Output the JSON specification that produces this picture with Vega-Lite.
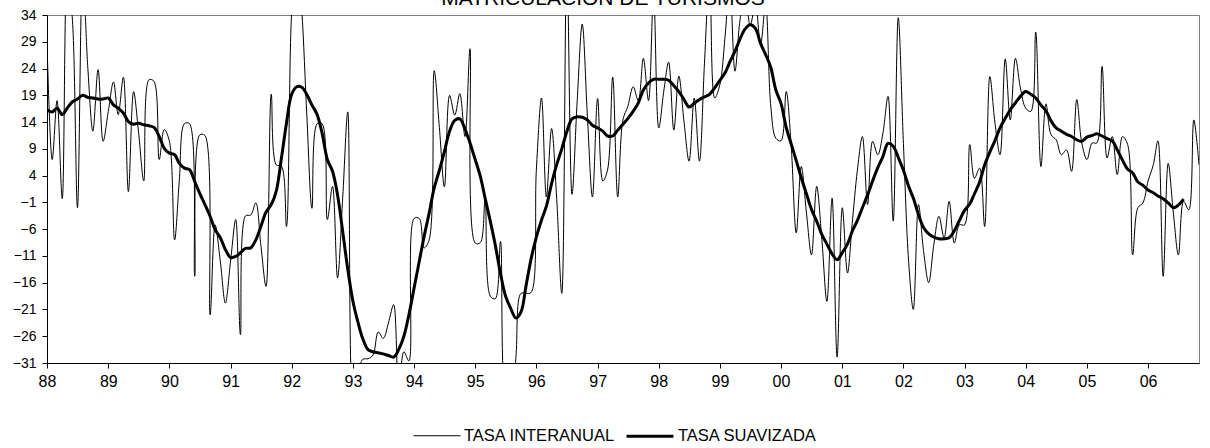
{
  "$schema": "https://vega.github.io/schema/vega-lite/v6.json",
  "width": 1152,
  "height": 348,
  "autosize": {"type": "none"},
  "padding": {"left": 47, "top": 15, "right": 11, "bottom": 85},
  "background": "white",
  "title": {
    "text": "MATRICULACIÓN DE TURISMOS",
    "font": "Liberation Sans",
    "fontSize": 21,
    "fontWeight": "normal",
    "color": "black",
    "anchor": "middle",
    "frame": "group",
    "baseline": "alphabetic",
    "offset": 0,
    "dy": 18,
    "dx": -20
  },
  "config": {
    "view": {"stroke": "#808080", "strokeWidth": 1},
    "font": "Liberation Sans",
    "axis": {"labelFont": "Liberation Sans", "labelColor": "black", "domainColor": "black", "tickColor": "black", "grid": false, "title": null, "labelOverlap": false},
    "axisY": {"labelOverlap": false, "labelFontSize": 14, "tickSize": 5, "labelPadding": 6, "labelFlush": false}
  },
  "data": {
    "values": [
      {"fecha": "1988-01", "interanual": 29, "suavizada": 16.3},
      {"fecha": "1988-02", "interanual": 7, "suavizada": 15.9},
      {"fecha": "1988-03", "interanual": 18, "suavizada": 16.6},
      {"fecha": "1988-04", "interanual": -0.3, "suavizada": 15.4},
      {"fecha": "1988-05", "interanual": 42, "suavizada": 16.6},
      {"fecha": "1988-06", "interanual": 33, "suavizada": 17.8},
      {"fecha": "1988-07", "interanual": -2, "suavizada": 18.3},
      {"fecha": "1988-08", "interanual": 42, "suavizada": 19},
      {"fecha": "1988-09", "interanual": 24, "suavizada": 18.6},
      {"fecha": "1988-10", "interanual": 12.3, "suavizada": 18.5},
      {"fecha": "1988-11", "interanual": 23.8, "suavizada": 18.3},
      {"fecha": "1988-12", "interanual": 10.4, "suavizada": 18.3},
      {"fecha": "1989-01", "interanual": 16, "suavizada": 18.5},
      {"fecha": "1989-02", "interanual": 21.5, "suavizada": 17.2},
      {"fecha": "1989-03", "interanual": 15.4, "suavizada": 16.6},
      {"fecha": "1989-04", "interanual": 22.4, "suavizada": 15.7},
      {"fecha": "1989-05", "interanual": 1, "suavizada": 14.1},
      {"fecha": "1989-06", "interanual": 19.7, "suavizada": 13.6},
      {"fecha": "1989-07", "interanual": 12, "suavizada": 13.8},
      {"fecha": "1989-08", "interanual": 3, "suavizada": 13.5},
      {"fecha": "1989-09", "interanual": 21.9, "suavizada": 13.3},
      {"fecha": "1989-10", "interanual": 21.6, "suavizada": 13},
      {"fecha": "1989-11", "interanual": 7, "suavizada": 11.3},
      {"fecha": "1989-12", "interanual": 12.6, "suavizada": 9.1},
      {"fecha": "1990-01", "interanual": 10.4, "suavizada": 8.2},
      {"fecha": "1990-02", "interanual": -8, "suavizada": 7.9},
      {"fecha": "1990-03", "interanual": 3, "suavizada": 6.3},
      {"fecha": "1990-04", "interanual": 13.7, "suavizada": 5.4},
      {"fecha": "1990-05", "interanual": 13.7, "suavizada": 5.1},
      {"fecha": "1990-06", "interanual": -14.8, "suavizada": 2.9},
      {"fecha": "1990-07", "interanual": 11.6, "suavizada": 0.7},
      {"fecha": "1990-08", "interanual": 11.5, "suavizada": -1.4},
      {"fecha": "1990-09", "interanual": -22, "suavizada": -3.6},
      {"fecha": "1990-10", "interanual": -5.2, "suavizada": -6.1},
      {"fecha": "1990-11", "interanual": -12, "suavizada": -7.6},
      {"fecha": "1990-12", "interanual": -19.8, "suavizada": -9.8},
      {"fecha": "1991-01", "interanual": -12, "suavizada": -11.3},
      {"fecha": "1991-02", "interanual": -4.2, "suavizada": -11.1},
      {"fecha": "1991-03", "interanual": -25.7, "suavizada": -10.4},
      {"fecha": "1991-04", "interanual": -3.5, "suavizada": -9.6},
      {"fecha": "1991-05", "interanual": -3.4, "suavizada": -9.5},
      {"fecha": "1991-06", "interanual": -1.1, "suavizada": -8},
      {"fecha": "1991-07", "interanual": -9, "suavizada": -5.5},
      {"fecha": "1991-08", "interanual": -16.7, "suavizada": -2.8},
      {"fecha": "1991-09", "interanual": 19.2, "suavizada": -1.4},
      {"fecha": "1991-10", "interanual": 6, "suavizada": 1.1},
      {"fecha": "1991-11", "interanual": 5.8, "suavizada": 7.3},
      {"fecha": "1991-12", "interanual": -5.5, "suavizada": 13.8},
      {"fecha": "1992-01", "interanual": 34.5, "suavizada": 19.2},
      {"fecha": "1992-02", "interanual": 45, "suavizada": 20.6},
      {"fecha": "1992-03", "interanual": 35, "suavizada": 20.5},
      {"fecha": "1992-04", "interanual": 15, "suavizada": 19.1},
      {"fecha": "1992-05", "interanual": -2.1, "suavizada": 17.2},
      {"fecha": "1992-06", "interanual": 13.7, "suavizada": 15.4},
      {"fecha": "1992-07", "interanual": 13.7, "suavizada": 11.9},
      {"fecha": "1992-08", "interanual": -4.2, "suavizada": 7},
      {"fecha": "1992-09", "interanual": 2, "suavizada": 4.8},
      {"fecha": "1992-10", "interanual": -15.1, "suavizada": 0.4},
      {"fecha": "1992-11", "interanual": 0, "suavizada": -6.5},
      {"fecha": "1992-12", "interanual": 15.9, "suavizada": -13.5},
      {"fecha": "1993-01", "interanual": -38, "suavizada": -19.5},
      {"fecha": "1993-02", "interanual": -33, "suavizada": -23.5},
      {"fecha": "1993-03", "interanual": -30.3, "suavizada": -26.5},
      {"fecha": "1993-04", "interanual": -30.2, "suavizada": -28.5},
      {"fecha": "1993-05", "interanual": -29.5, "suavizada": -28.9},
      {"fecha": "1993-06", "interanual": -25.2, "suavizada": -29.1},
      {"fecha": "1993-07", "interanual": -26.4, "suavizada": -29.3},
      {"fecha": "1993-08", "interanual": -23.5, "suavizada": -29.6},
      {"fecha": "1993-09", "interanual": -20.1, "suavizada": -29.9},
      {"fecha": "1993-10", "interanual": -36, "suavizada": -28.5},
      {"fecha": "1993-11", "interanual": -28.9, "suavizada": -26},
      {"fecha": "1993-12", "interanual": -30.6, "suavizada": -22},
      {"fecha": "1994-01", "interanual": -4, "suavizada": -17},
      {"fecha": "1994-02", "interanual": -4, "suavizada": -12},
      {"fecha": "1994-03", "interanual": -9.5, "suavizada": -7.5},
      {"fecha": "1994-04", "interanual": -8, "suavizada": -3},
      {"fecha": "1994-05", "interanual": 23.6, "suavizada": 1.7},
      {"fecha": "1994-06", "interanual": 13, "suavizada": 5},
      {"fecha": "1994-07", "interanual": 1.9, "suavizada": 8.5},
      {"fecha": "1994-08", "interanual": 19, "suavizada": 12.3},
      {"fecha": "1994-09", "interanual": 15.3, "suavizada": 14.3},
      {"fecha": "1994-10", "interanual": 19.3, "suavizada": 14.6},
      {"fecha": "1994-11", "interanual": 11.3, "suavizada": 12.7},
      {"fecha": "1994-12", "interanual": 27.7, "suavizada": 10.1},
      {"fecha": "1995-01", "interanual": -8.6, "suavizada": 7},
      {"fecha": "1995-02", "interanual": -8.5, "suavizada": 3.8},
      {"fecha": "1995-03", "interanual": -0.5, "suavizada": -0.2},
      {"fecha": "1995-04", "interanual": -18.5, "suavizada": -4.5},
      {"fecha": "1995-05", "interanual": -19, "suavizada": -9},
      {"fecha": "1995-06", "interanual": -8.3, "suavizada": -14.3},
      {"fecha": "1995-07", "interanual": -38, "suavizada": -18.5},
      {"fecha": "1995-08", "interanual": -40, "suavizada": -20.8},
      {"fecha": "1995-09", "interanual": -30, "suavizada": -22.6},
      {"fecha": "1995-10", "interanual": -18, "suavizada": -21.5},
      {"fecha": "1995-11", "interanual": -18, "suavizada": -16.5},
      {"fecha": "1995-12", "interanual": -17.8, "suavizada": -11.5},
      {"fecha": "1996-01", "interanual": 5, "suavizada": -7.5},
      {"fecha": "1996-02", "interanual": 18.5, "suavizada": -4.3},
      {"fecha": "1996-03", "interanual": 0, "suavizada": -1.7},
      {"fecha": "1996-04", "interanual": 12.8, "suavizada": 2.5},
      {"fecha": "1996-05", "interanual": 0, "suavizada": 6},
      {"fecha": "1996-06", "interanual": -18, "suavizada": 9},
      {"fecha": "1996-07", "interanual": 45, "suavizada": 12.2},
      {"fecha": "1996-08", "interanual": 0.5, "suavizada": 14.6},
      {"fecha": "1996-09", "interanual": 18, "suavizada": 15},
      {"fecha": "1996-10", "interanual": 32.3, "suavizada": 14.9},
      {"fecha": "1996-11", "interanual": 15, "suavizada": 14.4},
      {"fecha": "1996-12", "interanual": 0, "suavizada": 13.4},
      {"fecha": "1997-01", "interanual": 18.4, "suavizada": 12.9},
      {"fecha": "1997-02", "interanual": 3, "suavizada": 12.3},
      {"fecha": "1997-03", "interanual": 5, "suavizada": 11.4},
      {"fecha": "1997-04", "interanual": 22.4, "suavizada": 11.4},
      {"fecha": "1997-05", "interanual": 0, "suavizada": 12.5},
      {"fecha": "1997-06", "interanual": 14.4, "suavizada": 13.6},
      {"fecha": "1997-07", "interanual": 17, "suavizada": 14.7},
      {"fecha": "1997-08", "interanual": 20.6, "suavizada": 16},
      {"fecha": "1997-09", "interanual": 18, "suavizada": 17.6},
      {"fecha": "1997-10", "interanual": 25.9, "suavizada": 20},
      {"fecha": "1997-11", "interanual": 18, "suavizada": 21.3},
      {"fecha": "1997-12", "interanual": 38, "suavizada": 22},
      {"fecha": "1998-01", "interanual": 12.9, "suavizada": 22},
      {"fecha": "1998-02", "interanual": 20, "suavizada": 22},
      {"fecha": "1998-03", "interanual": 25.2, "suavizada": 21.8},
      {"fecha": "1998-04", "interanual": 12.5, "suavizada": 20.8},
      {"fecha": "1998-05", "interanual": 22.6, "suavizada": 19.7},
      {"fecha": "1998-06", "interanual": 14, "suavizada": 18.2},
      {"fecha": "1998-07", "interanual": 6.7, "suavizada": 16.8},
      {"fecha": "1998-08", "interanual": 18.5, "suavizada": 17.5},
      {"fecha": "1998-09", "interanual": 6.7, "suavizada": 18.2},
      {"fecha": "1998-10", "interanual": 25, "suavizada": 18.7},
      {"fecha": "1998-11", "interanual": 42, "suavizada": 19.2},
      {"fecha": "1998-12", "interanual": 18.5, "suavizada": 20.4},
      {"fecha": "1999-01", "interanual": 21, "suavizada": 21.8},
      {"fecha": "1999-02", "interanual": 30, "suavizada": 23.2},
      {"fecha": "1999-03", "interanual": 40, "suavizada": 25.2},
      {"fecha": "1999-04", "interanual": 23.5, "suavizada": 27.2},
      {"fecha": "1999-05", "interanual": 33, "suavizada": 29.5},
      {"fecha": "1999-06", "interanual": 38, "suavizada": 31.4},
      {"fecha": "1999-07", "interanual": 32, "suavizada": 32.2},
      {"fecha": "1999-08", "interanual": 36, "suavizada": 31.5},
      {"fecha": "1999-09", "interanual": 28.5, "suavizada": 28.7},
      {"fecha": "1999-10", "interanual": 36, "suavizada": 26.6},
      {"fecha": "1999-11", "interanual": 17, "suavizada": 24.2},
      {"fecha": "1999-12", "interanual": 11, "suavizada": 20},
      {"fecha": "2000-01", "interanual": 10.5, "suavizada": 17.5},
      {"fecha": "2000-02", "interanual": 19.7, "suavizada": 13},
      {"fecha": "2000-03", "interanual": 10, "suavizada": 10},
      {"fecha": "2000-04", "interanual": -6.7, "suavizada": 6.8},
      {"fecha": "2000-05", "interanual": 5.7, "suavizada": 3.6},
      {"fecha": "2000-06", "interanual": -3, "suavizada": 0.6},
      {"fecha": "2000-07", "interanual": -10.8, "suavizada": -2.3},
      {"fecha": "2000-08", "interanual": 2, "suavizada": -4.5},
      {"fecha": "2000-09", "interanual": -8, "suavizada": -7},
      {"fecha": "2000-10", "interanual": -19.5, "suavizada": -8.8},
      {"fecha": "2000-11", "interanual": -0.2, "suavizada": -10.6},
      {"fecha": "2000-12", "interanual": -29.9, "suavizada": -11.7},
      {"fecha": "2001-01", "interanual": -2, "suavizada": -10.4},
      {"fecha": "2001-02", "interanual": -14.2, "suavizada": -8.8},
      {"fecha": "2001-03", "interanual": -5, "suavizada": -6.4},
      {"fecha": "2001-04", "interanual": 5, "suavizada": -4.4},
      {"fecha": "2001-05", "interanual": 11.3, "suavizada": -2},
      {"fecha": "2001-06", "interanual": -1.4, "suavizada": 0.4},
      {"fecha": "2001-07", "interanual": 10.4, "suavizada": 3},
      {"fecha": "2001-08", "interanual": 7.9, "suavizada": 5.5},
      {"fecha": "2001-09", "interanual": 12, "suavizada": 7.6},
      {"fecha": "2001-10", "interanual": 18.8, "suavizada": 10},
      {"fecha": "2001-11", "interanual": -4.5, "suavizada": 9.5},
      {"fecha": "2001-12", "interanual": 33.5, "suavizada": 7.4},
      {"fecha": "2002-01", "interanual": 10, "suavizada": 5},
      {"fecha": "2002-02", "interanual": -12, "suavizada": 2},
      {"fecha": "2002-03", "interanual": -21, "suavizada": -0.2},
      {"fecha": "2002-04", "interanual": -1.4, "suavizada": -3.3},
      {"fecha": "2002-05", "interanual": -10, "suavizada": -5.7},
      {"fecha": "2002-06", "interanual": -16, "suavizada": -6.9},
      {"fecha": "2002-07", "interanual": -9, "suavizada": -7.5},
      {"fecha": "2002-08", "interanual": -3.6, "suavizada": -7.8},
      {"fecha": "2002-09", "interanual": -7.6, "suavizada": -7.8},
      {"fecha": "2002-10", "interanual": -0.8, "suavizada": -7.6},
      {"fecha": "2002-11", "interanual": -8.6, "suavizada": -6.3},
      {"fecha": "2002-12", "interanual": -5.2, "suavizada": -4.4},
      {"fecha": "2003-01", "interanual": -5.2, "suavizada": -2.5},
      {"fecha": "2003-02", "interanual": 9.8, "suavizada": -1.3},
      {"fecha": "2003-03", "interanual": 3.5, "suavizada": 0.6},
      {"fecha": "2003-04", "interanual": 5.4, "suavizada": 2.8},
      {"fecha": "2003-05", "interanual": -5.5, "suavizada": 6},
      {"fecha": "2003-06", "interanual": 22.5, "suavizada": 8.4},
      {"fecha": "2003-07", "interanual": 14, "suavizada": 10.5},
      {"fecha": "2003-08", "interanual": 7.9, "suavizada": 12.9},
      {"fecha": "2003-09", "interanual": 25.8, "suavizada": 14.7},
      {"fecha": "2003-10", "interanual": 14.4, "suavizada": 16.3},
      {"fecha": "2003-11", "interanual": 25.9, "suavizada": 17.6},
      {"fecha": "2003-12", "interanual": 20.3, "suavizada": 18.8},
      {"fecha": "2004-01", "interanual": 16.6, "suavizada": 19.7},
      {"fecha": "2004-02", "interanual": 16, "suavizada": 19.2},
      {"fecha": "2004-03", "interanual": 30.8, "suavizada": 18.5},
      {"fecha": "2004-04", "interanual": 5.7, "suavizada": 17.2},
      {"fecha": "2004-05", "interanual": 17.4, "suavizada": 16.1},
      {"fecha": "2004-06", "interanual": 11.6, "suavizada": 14.2},
      {"fecha": "2004-07", "interanual": 10.7, "suavizada": 12.9},
      {"fecha": "2004-08", "interanual": 7.9, "suavizada": 12.3},
      {"fecha": "2004-09", "interanual": 8.8, "suavizada": 11.7},
      {"fecha": "2004-10", "interanual": 4.8, "suavizada": 11.3},
      {"fecha": "2004-11", "interanual": 18.2, "suavizada": 10.7},
      {"fecha": "2004-12", "interanual": 10.1, "suavizada": 10.4},
      {"fecha": "2005-01", "interanual": 7, "suavizada": 11.2},
      {"fecha": "2005-02", "interanual": 10.1, "suavizada": 11.5},
      {"fecha": "2005-03", "interanual": 10.1, "suavizada": 11.8},
      {"fecha": "2005-04", "interanual": 24.4, "suavizada": 11.4},
      {"fecha": "2005-05", "interanual": 7.3, "suavizada": 10.9},
      {"fecha": "2005-06", "interanual": 11.3, "suavizada": 10.5},
      {"fecha": "2005-07", "interanual": 4.2, "suavizada": 8.8},
      {"fecha": "2005-08", "interanual": 11.3, "suavizada": 6.9},
      {"fecha": "2005-09", "interanual": 9.8, "suavizada": 5.2},
      {"fecha": "2005-10", "interanual": -10.8, "suavizada": 4.5},
      {"fecha": "2005-11", "interanual": -2, "suavizada": 2.8},
      {"fecha": "2005-12", "interanual": -1.1, "suavizada": 2.2},
      {"fecha": "2006-01", "interanual": 3, "suavizada": 1.3},
      {"fecha": "2006-02", "interanual": 6, "suavizada": 0.8},
      {"fecha": "2006-03", "interanual": 10.5, "suavizada": 0.2},
      {"fecha": "2006-04", "interanual": -14.8, "suavizada": -0.3},
      {"fecha": "2006-05", "interanual": 6.3, "suavizada": -1.1},
      {"fecha": "2006-06", "interanual": -3, "suavizada": -2},
      {"fecha": "2006-07", "interanual": -10.8, "suavizada": -1.5},
      {"fecha": "2006-08", "interanual": -0.8, "suavizada": -0.4},
      {"fecha": "2006-09", "interanual": -2.4, "suavizada": null},
      {"fecha": "2006-10", "interanual": 14.4, "suavizada": null},
      {"fecha": "2006-11", "interanual": 6, "suavizada": null}
    ]
  },
  "encoding": {
    "y": {
      "field": "valor",
      "type": "quantitative",
      "scale": {"domain": [-31, 34], "nice": false, "zero": false},
      "axis": {
        "values": [-31, -26, -21, -16, -11, -6, -1, 4, 9, 14, 19, 24, 29, 34],
        "labelFontSize": 14,
        "tickSize": 5,
        "labelPadding": 6,
        "labelOverlap": false,
        "labelFlush": false
      }
    }
  },
  "layer": [
    {
      "transform": [{"fold": ["interanual", "suavizada"], "as": ["serie", "valor"]}],
      "mark": {"type": "line", "color": "black", "interpolate": "catmull-rom", "clip": true, "strokeJoin": "round"},
      "encoding": {
        "x": {
          "field": "fecha",
          "type": "temporal",
          "scale": {"type": "utc", "domain": [{"year": 1988, "month": 1, "date": 1, "utc": true}, {"year": 2006, "month": 11, "date": 1, "utc": true}]},
          "axis": {
            "labelExpr": "utcFormat(datum.value, '%y')",
            "values": [
              {"year": 1988, "utc": true}, {"year": 1989, "utc": true}, {"year": 1990, "utc": true}, {"year": 1991, "utc": true},
              {"year": 1992, "utc": true}, {"year": 1993, "utc": true}, {"year": 1994, "utc": true}, {"year": 1995, "utc": true},
              {"year": 1996, "utc": true}, {"year": 1997, "utc": true}, {"year": 1998, "utc": true}, {"year": 1999, "utc": true},
              {"year": 2000, "utc": true}, {"year": 2001, "utc": true}, {"year": 2002, "utc": true}, {"year": 2003, "utc": true},
              {"year": 2004, "utc": true}, {"year": 2005, "utc": true}, {"year": 2006, "utc": true}
            ],
            "labelFontSize": 16,
            "tickSize": 5,
            "labelPadding": 5,
            "labelFlush": false,
            "labelOverlap": false
          }
        },
        "strokeWidth": {
          "field": "serie",
          "type": "ordinal",
          "scale": {"domain": ["interanual", "suavizada"], "range": [1, 3]},
          "legend": {
            "title": null,
            "orient": "none",
            "direction": "horizontal",
            "legendX": 366,
            "legendY": 396,
            "symbolType": "stroke",
            "symbolSize": 2200,
            "symbolStrokeColor": "black",
            "labelFont": "Liberation Sans",
            "labelFontSize": 16.5,
            "labelColor": "black",
            "labelOffset": 3,
            "columnPadding": 5,
            "padding": 0,
            "labelExpr": "datum.label == 'interanual' ? 'TASA INTERANUAL' : 'TASA SUAVIZADA'"
          }
        }
      }
    },
    {
      "mark": {"type": "rule", "color": "black", "strokeWidth": 1},
      "encoding": {"y": {"datum": 0, "type": "quantitative"}}
    }
  ]
}
